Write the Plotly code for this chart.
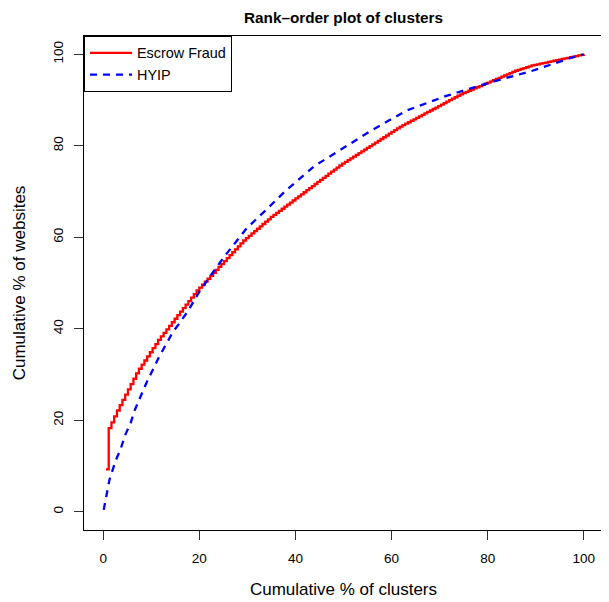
import numpy as np
import plotly.graph_objects as go

# Escrow Fraud: cluster sizes (websites per cluster, rank-ordered) as run-length pairs
escrow_sizes = [144, 140, 20, 18, 16, 14, 12, 10, 8, 7, 6, 5, 4, 3, 2]
escrow_counts = [1, 1, 3, 7, 1, 7, 14, 17, 10, 25, 22, 22, 20, 6, 19]

# HYIP: cumulative curve
hyip_x = [0.1, 0.8, 1.3, 2.6, 3.6, 4.5, 5.7, 6.6, 7.7, 9.0, 11.7, 14.4, 17.6, 20.3,
          25.0, 29.8, 34.0, 37.8, 44.0, 46.5, 51.0, 55.6, 63.1, 71.4, 80.4, 89.3, 97.6, 100.0]
hyip_y = [0.4, 4.4, 7.0, 11.2, 13.6, 16.6, 19.4, 22.3, 25.2, 28.2, 34.0, 39.1, 43.8, 48.6,
          55.5, 61.9, 66.1, 70.0, 75.6, 77.2, 80.2, 83.2, 87.7, 90.9, 93.8, 96.4, 99.3, 100.0]

tick_vals = [0, 20, 40, 60, 80, 100]

sizes = np.repeat(escrow_sizes, escrow_counts)
n = len(sizes)
esc_x = np.arange(1, n + 1) / n * 100
esc_y = np.cumsum(sizes) / sizes.sum() * 100

fig = go.Figure()
fig.add_trace(go.Scatter(x=esc_x, y=esc_y, mode="lines", name="Escrow Fraud",
                         line=dict(color="#FF0000", width=2.3, shape="hv")))
fig.add_trace(go.Scatter(x=hyip_x, y=hyip_y, mode="lines", name="HYIP",
                         line=dict(color="#0000FF", width=2.3, dash="7px,6px")))

axis_common = dict(
    range=[-4, 104], tickvals=tick_vals, ticks="outside", ticklen=9, tickwidth=1,
    tickcolor="#333333", showline=True, linecolor="black", linewidth=1, mirror=True,
    showgrid=False, zeroline=False, tickfont=dict(size=13.5, color="black"),
    automargin=False,
)

# the page body adds an 8px offset, so the figure is sized to the remaining window
W, H = 601, 594

fig.update_layout(
    width=W, height=H,
    margin=dict(l=76, r=6, t=28, b=72),
    paper_bgcolor="white", plot_bgcolor="white",
    font=dict(family="Liberation Sans, Arial, sans-serif", size=13, color="black"),
    title=dict(text="<b>Rank–order plot of clusters</b>", x=0.5, xref="paper",
               xanchor="center", y=1 - 9.5 / H, yref="container", yanchor="middle",
               font=dict(size=15.3)),
    xaxis=dict(**axis_common, ticklabelstandoff=7,
               title=dict(text="Cumulative % of clusters", standoff=17,
                          font=dict(size=17))),
    yaxis=dict(**axis_common, tickangle=-90, ticklabelstandoff=6,
               title=dict(text="Cumulative % of websites", standoff=20, font=dict(size=17))),
    legend=dict(x=0, y=1, xanchor="left", yanchor="top", bordercolor="black",
                borderwidth=1, bgcolor="white", font=dict(size=14.4), tracegroupgap=0,
                itemwidth=42),
    showlegend=True,
)

fig.write_html("out.html")
